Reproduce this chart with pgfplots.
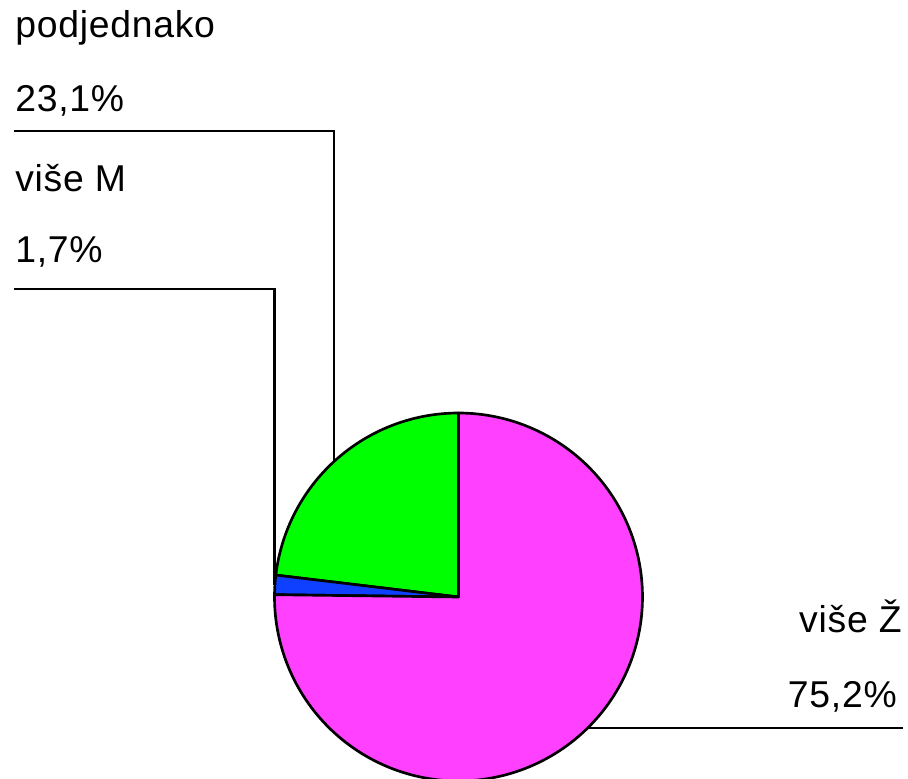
\documentclass[border=0pt]{standalone}
\usepackage{pgfplots}
\pgfplotsset{compat=1.18}
\usepackage{fontspec}
\setmainfont{Liberation Sans}[LetterSpace=2]
\definecolor{pieGreen}{HTML}{00FF00}
\definecolor{pieBlue}{HTML}{1040FF}
\definecolor{pieMagenta}{HTML}{FF40FF}
\begin{document}
\begin{tikzpicture}
\useasboundingbox (0,0) rectangle (681pt,584.25pt);
\begin{axis}[at={(0,0)}, anchor=south west, scale only axis,
  width=681pt, height=584.25pt,
  xmin=-458.5, xmax=449.5, ymin=-182, ymax=597,
  hide axis, clip=true]
% slices: podjednako 23.1, vise M 1.7, vise Z 75.2 (start at 90 deg, counter-clockwise)
\addplot[fill=pieGreen, draw=black, line width=2pt, line join=round, data cs=polar, domain=90:173.16, samples=60] {184} -- (axis cs:0,0) -- cycle;
\addplot[fill=pieBlue, draw=black, line width=2pt, line join=round, data cs=polar, domain=173.16:179.28, samples=8] {184} -- (axis cs:0,0) -- cycle;
\addplot[fill=pieMagenta, draw=black, line width=2pt, line join=round, data cs=polar, domain=179.28:450, samples=180] {184} -- (axis cs:0,0) -- cycle;
% leader lines
\addplot[black, line width=1.6pt, mark=none] coordinates {(-444.5,466) (-124.5,466) (-124.5,136)};
\addplot[black, line width=1.6pt, mark=none] coordinates {(-444.5,308) (-184,308) (-184,12)};
\addplot[black, line width=1.6pt, mark=none] coordinates {(129,-131) (444.5,-131)};
% labels
\begin{scope}[every node/.style={inner sep=0pt, font=\fontsize{28}{34}\selectfont}]
\node[anchor=base west] at (axis cs:-443.5,559) {podjednako};
\node[anchor=base west] at (axis cs:-443.5,485) {23,1\%};
\node[anchor=base west] at (axis cs:-443.5,405) {više M};
\node[anchor=base west] at (axis cs:-443.5,334) {1,7\%};
\node[anchor=base east] at (axis cs:443.5,-36) {više Ž};
\node[anchor=base east] at (axis cs:438.5,-111) {75,2\%};
\end{scope}
\end{axis}
\end{tikzpicture}
\end{document}
